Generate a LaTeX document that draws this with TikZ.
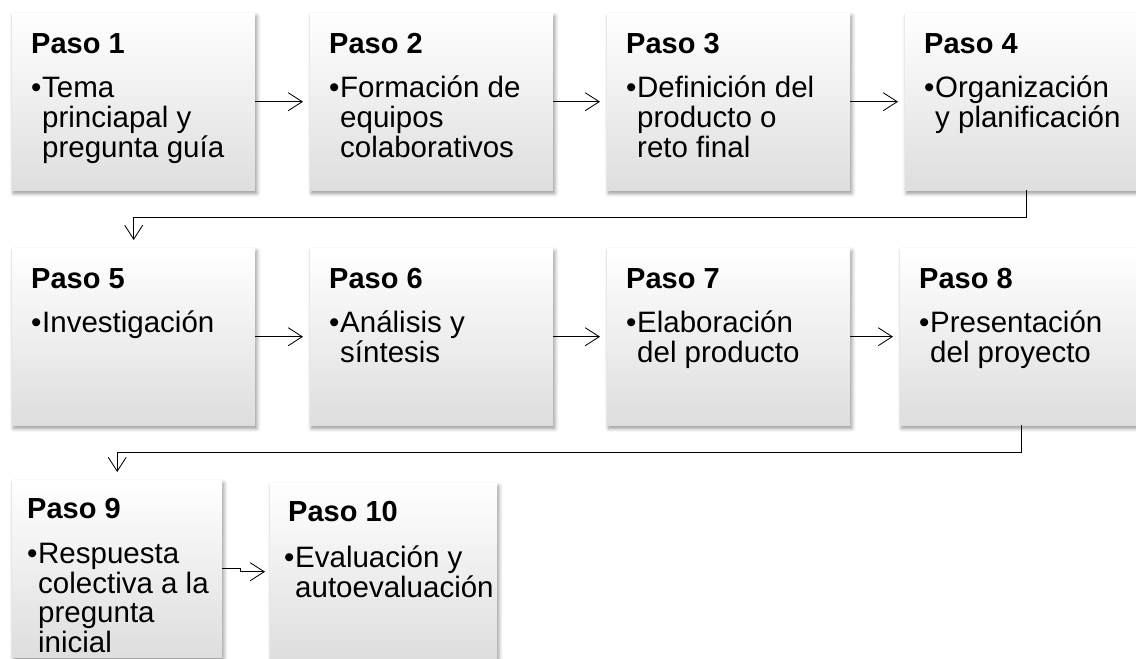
\documentclass[tikz,border=0pt]{standalone}
\usepackage{fontspec}
\setmainfont{Liberation Sans}
\usetikzlibrary{arrows.meta}
\usetikzlibrary{shadows.blur}
\newcommand{\puntos}[1]{\begin{tabular}[t]{@{}p{11pt}@{}l@{}}•&#1\end{tabular}}

\begin{document}
\begin{tikzpicture}[x=1pt, y=1pt,
    paso/.style={anchor=north west, inner sep=0pt, minimum width=243pt, minimum height=177pt,
                 top color=white, bottom color=black!13,
                 blur shadow={shadow xshift=1.5pt, shadow yshift=-3pt, shadow blur radius=4pt, shadow opacity=45}},
    titulo/.style={anchor=base west, inner sep=0pt, font=\bfseries\fontsize{29}{29}\selectfont},
    lista/.style={anchor=base west, inner sep=0pt, font=\fontsize{29.5}{29}\selectfont},
    flecha/.style={-{Straight Barb[length=14pt,width=18pt]}, line width=0.85pt}]
    \useasboundingbox (0,0) rectangle (1136,-659);

    % fila 1
    \node[paso] (b1) at (12,-13) {};
    \node[paso] (b2) at (310,-13) {};
    \node[paso] (b3) at (607,-13) {};
    \node[paso] (b4) at (905,-13) {};
    % fila 2
    \node[paso] (b5) at (12,-248) {};
    \node[paso] (b6) at (310,-248) {};
    \node[paso] (b7) at (607,-248) {};
    \node[paso] (b8) at (900,-248) {};
    % fila 3
    \node[paso, minimum width=210pt] (b9) at (12,-480) {};
    \node[paso, minimum width=227pt] (b10) at (270,-483) {};

    % textos
    \node[titulo] (t1) at ([shift={(19,-40)}]b1.north west) {Paso 1};
    \node[lista] (l1) at ([shift={(19,-84)}]b1.north west) {\puntos{Tema\\&princiapal y\\&pregunta guía}};
    \node[titulo] (t2) at ([shift={(19,-40)}]b2.north west) {Paso 2};
    \node[lista] (l2) at ([shift={(19,-84)}]b2.north west) {\puntos{Formación de\\&equipos\\&colaborativos}};
    \node[titulo] (t3) at ([shift={(19,-40)}]b3.north west) {Paso 3};
    \node[lista] (l3) at ([shift={(19,-84)}]b3.north west) {\puntos{Definición del\\&producto o\\&reto final}};
    \node[titulo] (t4) at ([shift={(19,-40)}]b4.north west) {Paso 4};
    \node[lista] (l4) at ([shift={(19,-84)}]b4.north west) {\puntos{Organización\\&y planificación}};
    \node[titulo] (t5) at ([shift={(19,-40)}]b5.north west) {Paso 5};
    \node[lista] (l5) at ([shift={(19,-84)}]b5.north west) {\puntos{Investigación}};
    \node[titulo] (t6) at ([shift={(19,-40)}]b6.north west) {Paso 6};
    \node[lista] (l6) at ([shift={(19,-84)}]b6.north west) {\puntos{Análisis y\\&síntesis}};
    \node[titulo] (t7) at ([shift={(19,-40)}]b7.north west) {Paso 7};
    \node[lista] (l7) at ([shift={(19,-84)}]b7.north west) {\puntos{Elaboración\\&del producto}};
    \node[titulo] (t8) at ([shift={(19,-40)}]b8.north west) {Paso 8};
    \node[lista] (l8) at ([shift={(19,-84)}]b8.north west) {\puntos{Presentación\\&del proyecto}};
    \node[titulo] (t9) at ([shift={(15,-38)}]b9.north west) {Paso 9};
    \node[lista] (l9) at ([shift={(15,-83)}]b9.north west) {\puntos{Respuesta\\&colectiva a la\\&pregunta\\&inicial}};
    \node[titulo] (t10) at ([shift={(18,-38)}]b10.north west) {Paso 10};
    \node[lista] (l10) at ([shift={(14,-84)}]b10.north west) {\puntos{Evaluación y\\&autoevaluación}};

    % flechas
    \draw[flecha] (b1.east) -- ([xshift=-7pt]b2.west);
    \draw[flecha] (b2.east) -- ([xshift=-7pt]b3.west);
    \draw[flecha] (b3.east) -- ([xshift=-7pt]b4.west);
    \draw[flecha] (b4.south) -- ++(0,-27) -| ([yshift=8pt]b5.north);
    \draw[flecha] (b5.east) -- ([xshift=-7pt]b6.west);
    \draw[flecha] (b6.east) -- ([xshift=-7pt]b7.west);
    \draw[flecha] (b7.east) -- ([xshift=-7pt]b8.west);
    \draw[flecha] (b8.south) -- ++(0,-27) -| ([yshift=8pt]b9.north);
    \draw[flecha] (b9.east) -- ++(18,0) |- ([xshift=-5pt]b10.west);
\end{tikzpicture}
\end{document}
